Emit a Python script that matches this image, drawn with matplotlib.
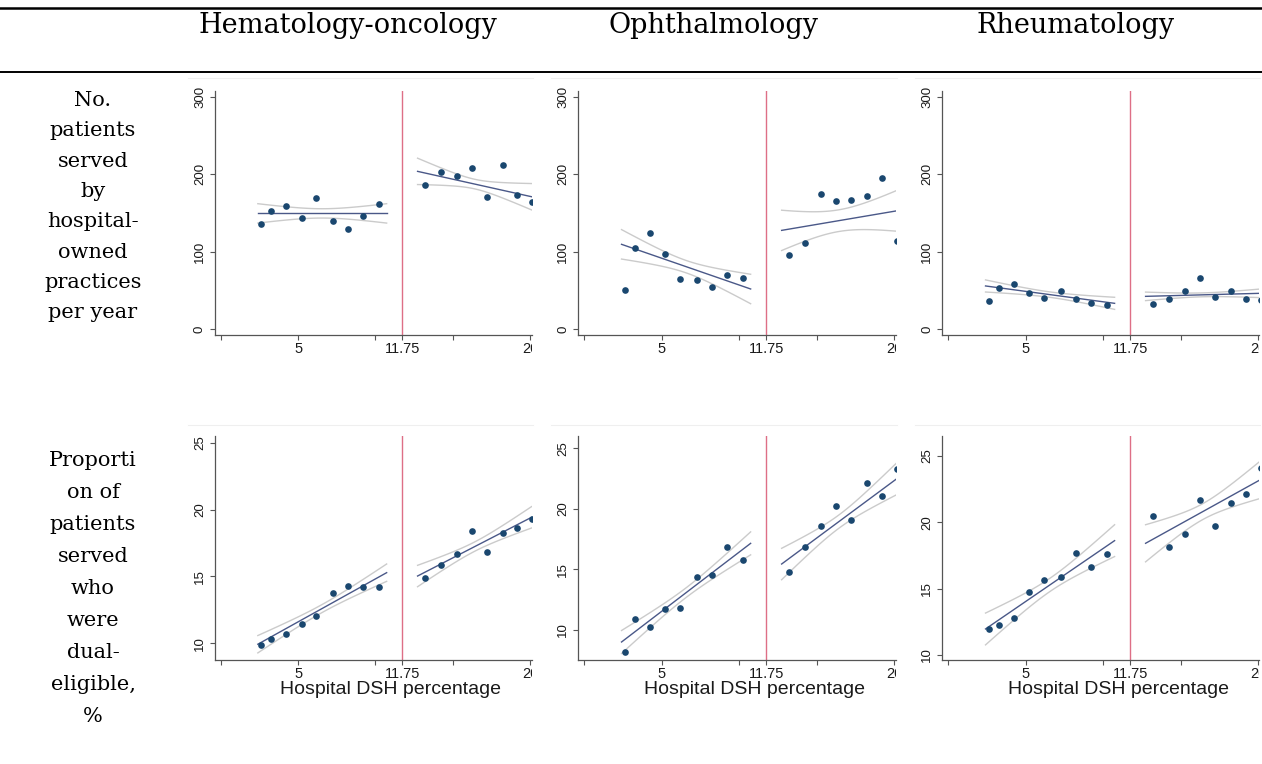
import numpy as np
import matplotlib
matplotlib.use("Agg")
import matplotlib.pyplot as plt
from matplotlib.lines import Line2D
from matplotlib.transforms import Bbox, TransformedBbox

W, H = 1262, 764

specialties = ["Hematology-oncology", "Ophthalmology", "Rheumatology"]
row_labels = [
    ["No.", "patients", "served", "by", "hospital-", "owned", "practices", "per year"],
    ["Proporti", "on of", "patients", "served", "who", "were", "dual-", "eligible,", "%"],
]
xlabel = "Hospital DSH percentage"
cutoff = 11.75

# bin centres (hospital DSH %), below and above the cutoff
bins_left = [2.62, 3.24, 4.24, 5.23, 6.19, 7.25, 8.22, 9.22, 10.23]
bins_right = [13.22, 14.24, 15.25, 16.22, 17.19, 18.24, 19.19, 20.15]

# binned means: No. patients served per year (heme, ophth, rheum)
npat_left = [
    [135.4, 152.0, 159.4, 143.5, 168.9, 139.2, 129.4, 146.1, 161.2],
    [51.1, 105.3, 124.6, 96.7, 64.9, 64.0, 54.6, 69.6, 65.7],
    [36.1, 53.7, 58.9, 47.3, 40.4, 49.8, 39.5, 34.4, 31.4],
]
npat_right = [
    [185.6, 202.8, 198.1, 207.6, 170.6, 211.9, 173.2, 164.6],
    [95.4, 110.9, 174.0, 165.9, 166.7, 172.3, 195.1, 114.3],
    [33.1, 38.7, 49.0, 65.7, 41.7, 49.0, 39.5, 37.8],
]
# binned means: proportion dual-eligible, %
dual_left = [
    [9.85, 10.30, 10.72, 11.42, 12.07, 13.74, 14.31, 14.19, 14.24],
    [8.18, 10.85, 10.25, 11.71, 11.76, 14.33, 14.49, 16.84, 15.73],
    [11.96, 12.24, 12.79, 14.72, 15.63, 15.90, 17.69, 16.66, 17.59],
]
dual_right = [
    [14.86, 15.83, 16.70, 18.42, 16.83, 18.27, 18.65, 19.27],
    [14.77, 16.87, 18.55, 20.20, 19.07, 22.10, 21.03, 23.29],
    [20.50, 18.12, 19.12, 21.66, 19.75, 21.48, 22.14, 24.07],
]

# linear fits: x range, fitted y at both ends, CI half width (centre, ends)
fit_x_left = (2.4, 10.73)
fit_x_right = (12.73, 20.1)
npat_fit_left = [(149.5, 149.5), (109.6, 52.0), (55.9, 33.5)]
npat_fit_right = [(203.7, 171.0), (127.6, 152.6), (42.5, 46.4)]
npat_ci_left = [(6.0, 12.5), (8.0, 19.0), (3.5, 7.8)]
npat_ci_right = [(6.2, 17.0), (14.0, 26.0), (2.5, 5.5)]
dual_fit_left = [(9.93, 15.28), (8.98, 17.14), (11.96, 18.62)]
dual_fit_right = [(15.03, 19.42), (15.43, 22.43), (18.42, 23.19)]
dual_ci_left = [(0.30, 0.65), (0.40, 0.95), (0.50, 1.20)]
dual_ci_right = [(0.35, 0.80), (0.55, 1.30), (0.60, 1.40)]

npat_ticks = [0, 100, 200, 300]
dual_ticks = [10, 15, 20, 25]

DOT = "#1a476f"
FIT = "#4a5888"
CI = "#cbcbcb"
CUT = "#de6f86"
AXC = "#555555"

plt.rcParams['font.family'] = ['Liberation Sans', 'DejaVu Sans']

# layout in pixels of the reference
cols_px = [(215, 531.7), (578.3, 895.7), (942.3, 1259)]
rows_px = [(91, 335), (436, 660)]
xlims = [(-0.37, 20.11), (-0.39, 20.09), (-0.39, 20.05)]
ylims = [[(-7.35, 307.35)] * 3, [(8.75, 25.5), (7.49, 26.02), (9.62, 26.51)]]


def draw_fit(ax, xr, yr, ci):
    x = np.linspace(xr[0], xr[1], 80)
    y = np.interp(x, xr, yr)
    xc = (xr[0] + xr[1]) / 2
    half = (xr[1] - xr[0]) / 2
    hw = np.sqrt(ci[0] ** 2 + (ci[1] ** 2 - ci[0] ** 2) * ((x - xc) / half) ** 2)
    ax.plot(x, y + hw, color=CI, lw=1.0, zorder=2)
    ax.plot(x, y - hw, color=CI, lw=1.0, zorder=2)
    ax.plot(x, y, color=FIT, lw=1.0, zorder=2.5)


fig = plt.figure(figsize=(W / 100, H / 100), dpi=100)

# table rules
fig.add_artist(Line2D([0, 1], [1 - 8 / H] * 2, color="black", lw=1.8))
fig.add_artist(Line2D([0, 1], [1 - 72 / H] * 2, color="black", lw=1.4))

# faint edges of the embedded graph images
for c in range(3):
    l, r = cols_px[c]
    for yt in (78, 425):
        fig.add_artist(Line2D([(l - 27) / W, (r + 1) / W], [1 - yt / H] * 2,
                              color="#efefef", lw=0.8))

header_x = [348, 713, 1076]
for name, hx in zip(specialties, header_x):
    fig.text(hx / W, 1 - 33 / H, name, ha="center", va="baseline",
             family="DejaVu Serif", size=19.5)

label_start = [106, 466]
label_step = [30.3, 32.0]
for k in range(2):
    for i, line in enumerate(row_labels[k]):
        fig.text(93 / W, 1 - (label_start[k] + i * label_step[k]) / H, line,
                 ha="center", va="baseline", family="DejaVu Serif", size=15)

data = [
    (npat_left, npat_right, npat_fit_left, npat_fit_right, npat_ci_left, npat_ci_right, npat_ticks),
    (dual_left, dual_right, dual_fit_left, dual_fit_right, dual_ci_left, dual_ci_right, dual_ticks),
]

for r in range(2):
    yl, yr_, fl, fr, cl, cr, yticks = data[r]
    t, b = rows_px[r]
    for c in range(3):
        l, rr = cols_px[c]
        ax = fig.add_axes([l / W, 1 - b / H, (rr - l) / W, (b - t) / H])
        ax.set_xlim(*xlims[c])
        ax.set_ylim(*ylims[r][c])

        ax.axvline(cutoff, color=CUT, lw=1.0, zorder=1)
        draw_fit(ax, fit_x_left, fl[c], cl[c])
        draw_fit(ax, fit_x_right, fr[c], cr[c])
        ax.plot(bins_left, yl[c], "o", color=DOT, ms=4.8, mew=0, zorder=3)
        ax.plot(bins_right, yr_[c], "o", color=DOT, ms=4.8, mew=0, zorder=3)

        for s in ("top", "right"):
            ax.spines[s].set_visible(False)
        for s in ("left", "bottom"):
            ax.spines[s].set_color(AXC)
            ax.spines[s].set_linewidth(0.9)

        ax.set_xticks([0, 5, 10, cutoff, 15, 20])
        ax.set_xticklabels(["", "5", "", "11.75", "", "20"])
        ax.set_yticks(yticks)
        ax.set_yticklabels([str(v) for v in yticks])
        ax.tick_params(axis="x", direction="out", length=3.5, width=0.8,
                       color=AXC, labelcolor="#1a1a1a", labelsize=10.5, pad=1.5)
        ax.tick_params(axis="y", direction="out", length=3.5, width=0.8,
                       color=AXC, labelcolor="#1a1a1a", labelsize=9.5, pad=3,
                       labelrotation=90)
        for lab in ax.get_yticklabels():
            lab.set_va("center")

        # the source images are cropped at the right edge of the plot
        clip = TransformedBbox(Bbox([[-1, -1], [1, 2]]), ax.transAxes)
        for lab in ax.get_xticklabels():
            lab.set_clip_box(clip)
            lab.set_clip_on(True)

        if r == 1:
            yax = -(690 - 660) / (b - t)
            ax.text(10.95, yax, xlabel, transform=ax.get_xaxis_transform(),
                    ha="center", va="center", size=14, color="#1a1a1a")

fig.savefig("out.png", dpi=100)
